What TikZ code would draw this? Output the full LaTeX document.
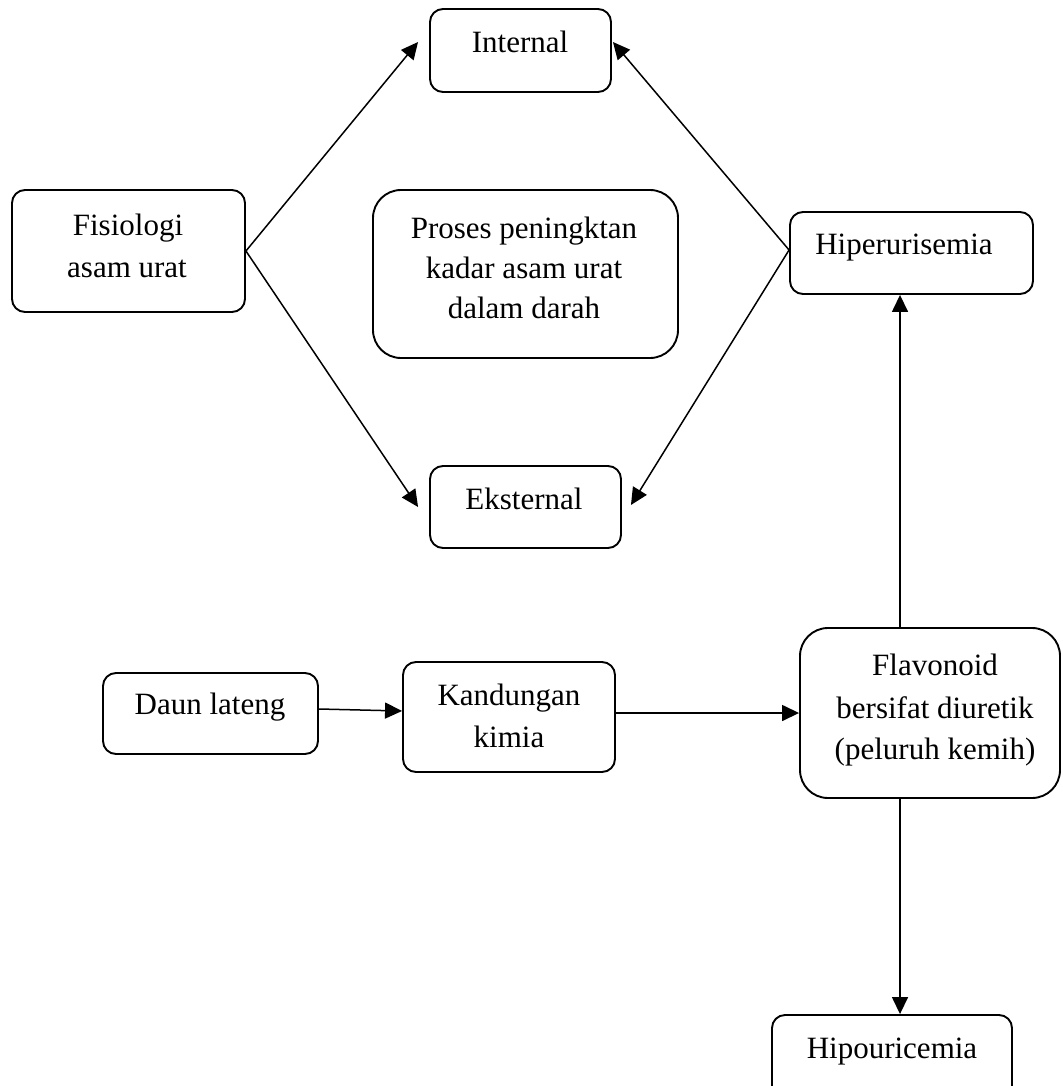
\documentclass[tikz,border=0pt]{standalone}
\usepackage{fontspec}
\setmainfont{Liberation Serif}
\usetikzlibrary{arrows.meta}
\begin{document}
\begin{tikzpicture}[x=1pt,y=-1pt,
  box/.style={draw, line width=1.9pt, rounded corners=13pt, inner sep=0pt},
  bigbox/.style={box, rounded corners=28pt},
  txt/.style={anchor=base, inner sep=0pt, font=\fontsize{31}{41}\selectfont},
  arr/.style={line width=1.5pt, -{Triangle[length=17pt,width=16pt]}}]
\clip (0,0) rectangle (1062,1086);
% boxes
\node[box, minimum width=181pt, minimum height=83pt] (int) at (520.5,50.5) {};
\node[box, minimum width=233pt, minimum height=122pt] (fis) at (128.5,251) {};
\node[bigbox, minimum width=305pt, minimum height=168pt] (pro) at (525.5,274) {};
\node[box, minimum width=243pt, minimum height=82pt] (hip) at (911.5,253) {};
\node[box, minimum width=191pt, minimum height=82pt] (eks) at (525.5,507) {};
\node[box, minimum width=215pt, minimum height=81pt] (daun) at (210.5,713.5) {};
\node[box, minimum width=212pt, minimum height=110pt] (kand) at (509,717) {};
\node[bigbox, minimum width=260pt, minimum height=170pt] (flav) at (930,713) {};
\node[box, minimum width=240pt, minimum height=85pt] (hipo) at (892,1057.5) {};
% texts
\node[txt] (intT) at (520,53) {Internal};
\node[txt] (fisT1) at (128,235) {Fisiologi};
\node[txt] (fisT2) at (127,277) {asam urat};
\node[txt] (proT1) at (524,238) {Proses peningktan};
\node[txt] (proT2) at (524,278) {kadar asam urat};
\node[txt] (proT3) at (524,318) {dalam darah};
\node[txt] (hipT) at (904,254) {Hiperurisemia};
\node[txt] (eksT) at (524,509) {Eksternal};
\node[txt] (daunT) at (210,714) {Daun lateng};
\node[txt] (kandT1) at (509,705) {Kandungan};
\node[txt] (kandT2) at (509,747) {kimia};
\node[txt] (flavT1) at (935,675) {Flavonoid};
\node[txt] (flavT2) at (935,718) {bersifat diuretik};
\node[txt] (flavT3) at (935,759) {(peluruh kemih)};
\node[txt] (hipoT) at (892,1058) {Hipouricemia};
% connectors
\draw[arr] (fis.east) -- ([xshift=-11pt,yshift=8.5pt]int.west);
\draw[arr] (fis.east) -- ([xshift=-11pt]eks.west);
\draw[arr] ([yshift=3pt]hip.west) -- ([xshift=1pt,yshift=8.5pt]int.east);
\draw[arr] ([yshift=3pt]hip.west) -- ([xshift=9pt,yshift=2pt]eks.east);
\draw[arr] ([yshift=4.5pt]daun.east) -- ([yshift=6pt]kand.west);
\draw[arr] (kand.east |- flav.west) -- (flav.west);
\draw[arr] ([xshift=-30pt]flav.north) -- ([xshift=-30pt]flav.north |- hip.south);
\draw[arr] ([xshift=-30pt]flav.south) -- ([xshift=-30pt]flav.south |- hipo.north);
\end{tikzpicture}
\end{document}
